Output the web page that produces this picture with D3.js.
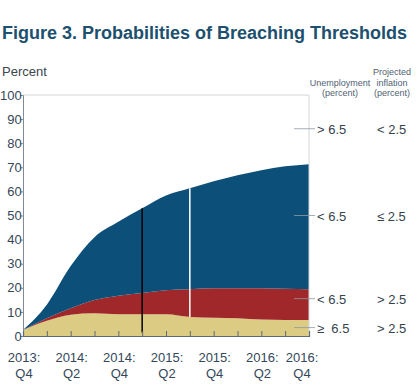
<!DOCTYPE html>
<html>
<head>
<meta charset="utf-8">
<script src="https://cdn.jsdelivr.net/npm/d3@7"></script>
<style>
  body { margin: 0; background: #fff; }
  svg { font-family: "Liberation Sans", Arial, sans-serif; }
</style>
</head>
<body>
<svg width="420" height="390"></svg>
<script>
// quarters 2013:Q4 .. 2016:Q4
const quarters = ["2013:Q4", "2014:Q1", "2014:Q2", "2014:Q3", "2014:Q4", "2015:Q1", "2015:Q2",
                  "2015:Q3", "2015:Q4", "2016:Q1", "2016:Q2", "2016:Q3", "2016:Q4"];
// probabilities (percent), stacked bottom to top
const aboveBoth = [2.5, 6.3, 8.8, 9.4, 9.0, 9.0, 9.0, 7.9, 7.6, 7.4, 6.8, 6.6, 6.6];      // >= 6.5 / > 2.5
const belowHigh = [0, 1.1, 2.7, 5.5, 7.7, 8.8, 10.0, 11.5, 12.2, 12.4, 13.0, 13.0, 12.8];  // < 6.5 / > 2.5
const belowLow  = [0, 5.6, 17.5, 26.1, 30.7, 35.2, 39.3, 41.9, 44.4, 46.9, 49.0, 50.8, 51.9]; // < 6.5 / <= 2.5
const yTicks = [0, 10, 20, 30, 40, 50, 60, 70, 80, 90, 100];
const xLabelQuarters = [0, 2, 4, 6, 8, 10, 12];
// right hand key: level on the y scale, unemployment, inflation
const keyLevels = [86, 50, 15.5, 3.5];
const keyUnemp = ["> 6.5", "< 6.5", "< 6.5", "\u2265 \u00a06.5"];
const keyInfl = ["< 2.5", "\u2264 2.5", "> 2.5", "> 2.5"];

const svg = d3.select("svg");

const x = d3.scaleLinear().domain([0, 12]).range([23, 309]);
const y = d3.scaleLinear().domain([0, 100]).range([336, 95]);

// title
svg.append("text")
    .attr("x", 2).attr("y", 39)
    .attr("font-size", 18).attr("font-weight", "bold")
    .attr("fill", "#1d4f6e")
    .text("Figure 3. Probabilities of Breaching Thresholds");

svg.append("text")
    .attr("x", 2).attr("y", 76)
    .attr("font-size", 13).attr("fill", "#3b4650")
    .text("Percent");

// stacked areas
const table = quarters.map((q, i) => ({ i: i, a: aboveBoth[i], b: belowHigh[i], c: belowLow[i] }));
const stack = d3.stack().keys(["a", "b", "c"]);
const layers = stack(table);
const colors = { a: "#dccb83", b: "#a0282a", c: "#0c4f79" };

const area = d3.area()
    .x(d => x(d.data.i))
    .y0(d => y(d[0]))
    .y1(d => y(d[1]))
    .curve(d3.curveMonotoneX);

svg.append("g").selectAll("path")
    .data(layers)
    .enter()
    .append("path")
    .attr("fill", d => colors[d.key])
    .attr("d", area);

// frame: top and right light grey
svg.append("path")
    .attr("d", `M${x(0)},${y(100)}H${x(12)}V${y(0)}`)
    .attr("fill", "none").attr("stroke", "#d3d6d9").attr("stroke-width", 1);

// vertical marker lines
const total = i => aboveBoth[i] + belowHigh[i] + belowLow[i];
svg.append("line")
    .attr("x1", x(5)).attr("x2", x(5))
    .attr("y1", y(total(5))).attr("y2", y(1.5))
    .attr("stroke", "#000").attr("stroke-width", 1.5);
svg.append("line")
    .attr("x1", x(7)).attr("x2", x(7))
    .attr("y1", y(total(7))).attr("y2", y(aboveBoth[7]))
    .attr("stroke", "#fff").attr("stroke-width", 1.5);

// y axis
const yAxis = svg.append("g")
    .attr("transform", `translate(${x(0)},0)`)
    .call(d3.axisLeft(y).tickValues(yTicks).tickSize(3).tickPadding(0));
yAxis.select(".domain").attr("stroke", "#7f8b96");
yAxis.selectAll(".tick line").attr("stroke", "#7f8b96");
yAxis.selectAll(".tick text")
    .attr("x", -1.2)
    .attr("font-size", 13).attr("fill", "#34475a")
    .attr("font-family", "Liberation Sans, Arial, sans-serif");

// x axis with inner ticks
const xAxis = svg.append("g")
    .attr("transform", `translate(0,${y(0)})`)
    .call(d3.axisBottom(x).ticks(12).tickSize(-5).tickFormat(""));
xAxis.select(".domain").attr("stroke", "#5d6a74").attr("stroke-width", 1.2);
xAxis.selectAll(".tick line").attr("stroke", "#5d6a74");

const xl = svg.append("g").selectAll("text")
    .data(xLabelQuarters)
    .enter()
    .append("text")
    .attr("font-size", 13).attr("fill", "#34475a")
    .attr("text-anchor", "middle")
    .attr("transform", d => `translate(${x(d) + (d === 12 ? -7 : 1)},0)`);
xl.append("tspan").attr("x", 0).attr("y", 362).text(d => quarters[d].split(":")[0] + ":");
xl.append("tspan").attr("x", 0).attr("y", 378).text(d => quarters[d].split(":")[1]);

// right hand key
const head = svg.append("g").attr("font-size", 9).attr("fill", "#4f6272").attr("text-anchor", "middle");
head.append("text").attr("x", 340).attr("y", 86).text("Unemployment");
head.append("text").attr("x", 340).attr("y", 96).text("(percent)");
head.append("text").attr("x", 392).attr("y", 75).text("Projected");
head.append("text").attr("x", 392).attr("y", 86).text("inflation");
head.append("text").attr("x", 392).attr("y", 96).text("(percent)");

const key = svg.append("g").selectAll("g")
    .data(keyLevels)
    .enter()
    .append("g")
    .attr("transform", d => `translate(0,${y(d)})`);
key.append("line")
    .attr("x1", 294).attr("x2", 315)
    .attr("stroke", "#8f9aa3").attr("stroke-width", 0.8);
key.append("text")
    .attr("x", 317).attr("y", 5)
    .attr("font-size", 13).attr("fill", "#35424d")
    .text((d, i) => keyUnemp[i]);
key.append("text")
    .attr("x", 377).attr("y", 5)
    .attr("font-size", 13).attr("fill", "#35424d")
    .text((d, i) => keyInfl[i]);
</script>
</body>
</html>
